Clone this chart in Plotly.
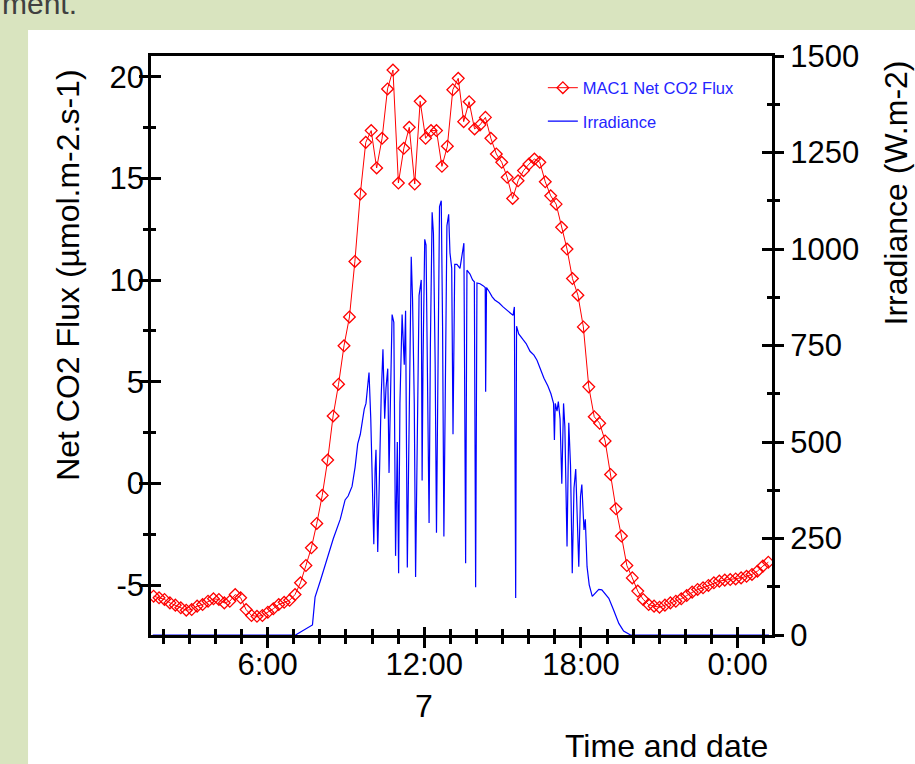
import pandas as pd
import plotly.graph_objects as go

# MAC1 net CO2 flux, one reading every 12.5 min starting 01:38 on the 7th
flux_start = "2013-07-07 01:38"
flux_step = "750s"
flux = [-5.55, -5.63, -5.71, -5.88, -5.99, -6.12, -6.24, -6.21, -6.04, -5.96,
        -5.80, -5.68, -5.71, -5.88, -5.80, -5.47, -5.63, -6.21, -6.50, -6.54,
        -6.50, -6.34, -6.17, -5.96, -5.85, -5.75, -5.47, -4.89, -4.04, -3.17,
        -1.97, -0.59, 1.15, 3.32, 4.88, 6.77, 8.19, 10.92, 14.24, 16.78,
        17.36, 15.52, 16.98, 19.41, 20.34, 14.78, 16.49, 17.52, 14.73, 18.80,
        16.98, 17.36, 17.36, 15.60, 16.59, 19.37, 19.93, 17.80, 18.78, 17.44,
        17.64, 18.01, 16.98, 16.21, 15.80, 15.06, 14.02, 14.89, 15.39, 15.71,
        15.96, 15.80, 14.84, 14.15, 13.74, 12.60, 11.53, 10.08, 9.26, 7.70,
        4.75, 3.28, 2.96, 2.09, 0.44, -1.25, -2.59, -4.04, -4.65, -5.30,
        -5.71, -5.96, -6.04, -6.09, -5.99, -5.88, -5.80, -5.68, -5.52, -5.35,
        -5.22, -5.14, -5.02, -4.89, -4.81, -4.76, -4.73, -4.70, -4.65, -4.57,
        -4.48, -4.32, -4.07, -3.88]

# irradiance (W.m-2), times on the 7th, last one wraps past midnight
irr_time = ["01:36", "07:04", "07:43", "07:49", "08:01", "08:15", "08:31", "08:47",
            "08:58", "09:05", "09:14", "09:21", "09:27", "09:33", "09:37", "09:42",
            "09:46", "09:50", "09:53", "09:57", "10:00", "10:04", "10:07", "10:09",
            "10:13", "10:16", "10:21", "10:25", "10:29", "10:32", "10:36", "10:39",
            "10:43", "10:46", "10:50", "10:54", "10:58", "11:01", "11:04", "11:09",
            "11:14", "11:17", "11:21", "11:25", "11:30", "11:33", "11:37", "11:40",
            "11:45", "11:48", "11:53", "11:55", "11:57", "12:01", "12:04", "12:08",
            "12:11", "12:14", "12:18", "12:21", "12:25", "12:28", "12:32", "12:35",
            "12:39", "12:42", "12:45", "12:49", "12:52", "12:56", "12:59", "13:03",
            "13:06", "13:10", "13:15", "13:22", "13:28", "13:31", "13:35", "13:38",
            "13:45", "13:51", "13:55", "13:58", "14:01", "14:08", "14:15", "14:20",
            "14:21", "14:23", "14:29", "14:36", "14:42", "14:52", "15:01", "15:09",
            "15:17", "15:24", "15:27", "15:30", "15:32", "15:37", "15:47", "15:54",
            "16:03", "16:12", "16:19", "16:26", "16:35", "16:44", "16:51", "16:57",
            "16:59", "17:01", "17:05", "17:08", "17:12", "17:16", "17:20", "17:23",
            "17:28", "17:32", "17:36", "17:40", "17:44", "17:48", "17:52", "17:55",
            "17:59", "18:02", "18:07", "18:10", "18:14", "18:19", "18:26", "18:34",
            "18:41", "18:48", "18:55", "19:04", "19:15", "19:27", "19:38", "19:54",
            "01:12"]
irradiance = [0, 0, 26, 98, 140, 194, 250, 300,
              350, 360, 385, 435, 495, 520, 550, 585,
              600, 640, 680, 560, 380, 235, 430, 480,
              215, 400, 620, 740, 560, 640, 690, 420,
              700, 830, 810, 205, 500, 160, 600, 830,
              700, 840, 175, 560, 980, 870, 600, 150,
              700, 880, 920, 400, 700, 1025, 1010, 600,
              290, 750, 1095, 1040, 700, 265, 900, 1110,
              1125, 800, 255, 700, 1060, 1090, 990, 950,
              520, 960, 960, 950, 990, 1015, 186, 945,
              935, 920, 915, 124, 912, 910, 905, 900,
              630, 900, 890, 876, 868, 860, 850, 842,
              835, 828, 850, 96, 800, 780, 765, 755,
              735, 725, 712, 690, 665, 645, 625, 600,
              505, 600, 580, 605, 560, 392, 600, 540,
              229, 550, 440, 160, 380, 430, 240, 177,
              360, 390, 272, 300, 177, 130, 100, 110,
              118, 117, 108, 95, 65, 30, 10, 0,
              0]

flux_vals = [-5, 0, 5, 10, 15, 20]
flux_text = ["-5", "0", "5", "10", "15", "20"]

flux_x = pd.date_range(flux_start, periods=len(flux), freq=flux_step)

irr_x = []
day = pd.Timestamp("2013-07-07")
prev = None
for t in irr_time:
    ts = pd.Timestamp(day.strftime("%Y-%m-%d") + " " + t)
    if prev is not None and ts < prev:
        day = day + pd.Timedelta(days=1)
        ts = ts + pd.Timedelta(days=1)
    irr_x.append(ts)
    prev = ts

FONT = "Liberation Sans, Arial, sans-serif"
GREEN = "#d9e4bf"

fig = go.Figure()

fig.add_trace(go.Scatter(
    x=flux_x, y=flux, name="MAC1 Net CO2 Flux", legendgroup="a",
    mode="lines+markers",
    line=dict(color="#ff0000", width=1),
    marker=dict(symbol="diamond-open", size=9, color="#ff0000", line=dict(width=1.3, color="#ff0000")),
))
fig.add_trace(go.Scatter(
    x=irr_x, y=irradiance, name="Irradiance", legendgroup="b", yaxis="y2",
    mode="lines", line=dict(color="#0000ff", width=1.2),
))
# empty traces so the tick-only overlay axes are drawn
fig.add_trace(go.Scatter(x=[], y=[], xaxis="x2", yaxis="y3", showlegend=False, hoverinfo="skip"))
fig.add_trace(go.Scatter(x=[], y=[], xaxis="x2", yaxis="y4", showlegend=False, hoverinfo="skip"))

tick_font = dict(family=FONT, size=31, color="black")
x_range = ["2013-07-07 01:32", "2013-07-08 01:19"]

fig.update_layout(
    width=915, height=764,
    margin=dict(l=151, r=143, t=56, b=129),
    paper_bgcolor=GREEN, plot_bgcolor="white",
    font=dict(family=FONT, color="black"),
    # outside half of the crossing ticks plus the frame
    xaxis=dict(
        type="date", range=x_range, tick0="2013-07-07 00:00", dtick=6 * 3600000,
        showticklabels=False,
        ticks="outside", ticklen=10, tickwidth=2.5, tickcolor="black",
        minor=dict(dtick=3600000, ticks="outside", ticklen=6, tickwidth=2.5, tickcolor="black"),
        showline=True, linewidth=3, linecolor="black", mirror=True,
        showgrid=False, zeroline=False, layer="below traces",
    ),
    # inside half of the ticks, carries the labels
    xaxis2=dict(
        type="date", overlaying="x", matches="x", anchor="y", side="bottom",
        tick0="2013-07-07 00:00", dtick=6 * 3600000,
        tickformat="%-H:%M", tickfont=tick_font, ticklabelstandoff=8,
        ticks="inside", ticklen=8, tickwidth=2.5, tickcolor="black",
        minor=dict(dtick=3600000, ticks="inside", ticklen=6, tickwidth=2.5, tickcolor="black"),
        showline=False, showgrid=False, zeroline=False,
    ),
    yaxis=dict(
        range=[-7.46, 21.03], tickvals=flux_vals, showticklabels=False,
        ticks="outside", ticklen=9, tickwidth=2.5, tickcolor="black",
        minor=dict(dtick=2.5, tick0=0, ticks="outside", ticklen=5, tickwidth=2.5, tickcolor="black"),
        showline=True, linewidth=3, linecolor="black",
        showgrid=False, zeroline=False,
    ),
    yaxis2=dict(
        range=[0, 1500], dtick=250, overlaying="y", side="right", anchor="x",
        tickfont=tick_font,
        ticks="outside", ticklen=9, tickwidth=2.5, tickcolor="black",
        minor=dict(dtick=125, ticks="outside", ticklen=5, tickwidth=2.5, tickcolor="black"),
        showline=True, linewidth=3, linecolor="black",
        showgrid=False, zeroline=False,
    ),
    yaxis3=dict(
        overlaying="y", matches="y", anchor="x", side="left",
        tickvals=flux_vals, ticktext=flux_text, tickfont=tick_font, ticklabelstandoff=6,
        ticks="inside", ticklen=10, tickwidth=2.5, tickcolor="black",
        minor=dict(dtick=2.5, tick0=0, ticks="inside", ticklen=5, tickwidth=2.5, tickcolor="black"),
        showline=False, showgrid=False, zeroline=False,
    ),
    yaxis4=dict(
        overlaying="y", matches="y2", anchor="x", side="right",
        dtick=250, showticklabels=False,
        ticks="inside", ticklen=10, tickwidth=2.5, tickcolor="black",
        minor=dict(dtick=125, ticks="inside", ticklen=5, tickwidth=2.5, tickcolor="black"),
        showline=False, showgrid=False, zeroline=False,
    ),
    legend=dict(
        x=0.631, y=0.975, xanchor="left", yanchor="top",
        bgcolor="rgba(0,0,0,0)", borderwidth=0, itemwidth=30,
        font=dict(family=FONT, size=16.5, color="#2424ff"),
        tracegroupgap=9,
    ),
    showlegend=True,
)

# white slide panel behind the chart
fig.add_shape(type="rect", xref="paper", yref="paper", layer="below",
              x0=-0.198, x1=1.25, y0=-0.25, y1=1.0449,
              fillcolor="white", line=dict(width=0))

title_font = dict(family=FONT, size=32, color="black")
annotations = [
    dict(text="Net CO2 Flux (µmol.m-2.s-1)", xref="paper", yref="paper",
         x=-0.1337, y=0.622, xanchor="center", yanchor="middle",
         textangle=-90, showarrow=False, font=title_font),
    dict(text="Irradiance (W.m-2)", xref="paper", yref="paper",
         x=1.2, y=0.763, xanchor="center", yanchor="middle",
         textangle=-90, showarrow=False, font=title_font),
    dict(text="7", xref="x", yref="paper", x="2013-07-07 12:00", y=-0.1226,
         xanchor="center", yanchor="middle", showarrow=False, font=title_font),
    dict(text="Time and date", xref="paper", yref="paper", x=0.9968, y=-0.1917,
         xanchor="right", yanchor="middle", showarrow=False, font=title_font),
    dict(text="ment.", xref="paper", yref="paper", x=-0.2432, y=1.058,
         xanchor="left", yanchor="bottom", showarrow=False,
         font=dict(family=FONT, size=30, color="#404040")),
]
fig.update_layout(annotations=annotations)

# drop the browser's default body margin so the figure sits at the page corner
fig.write_html("out.html", config={"displayModeBar": False},
               post_script="document.body.style.margin='0px';")
